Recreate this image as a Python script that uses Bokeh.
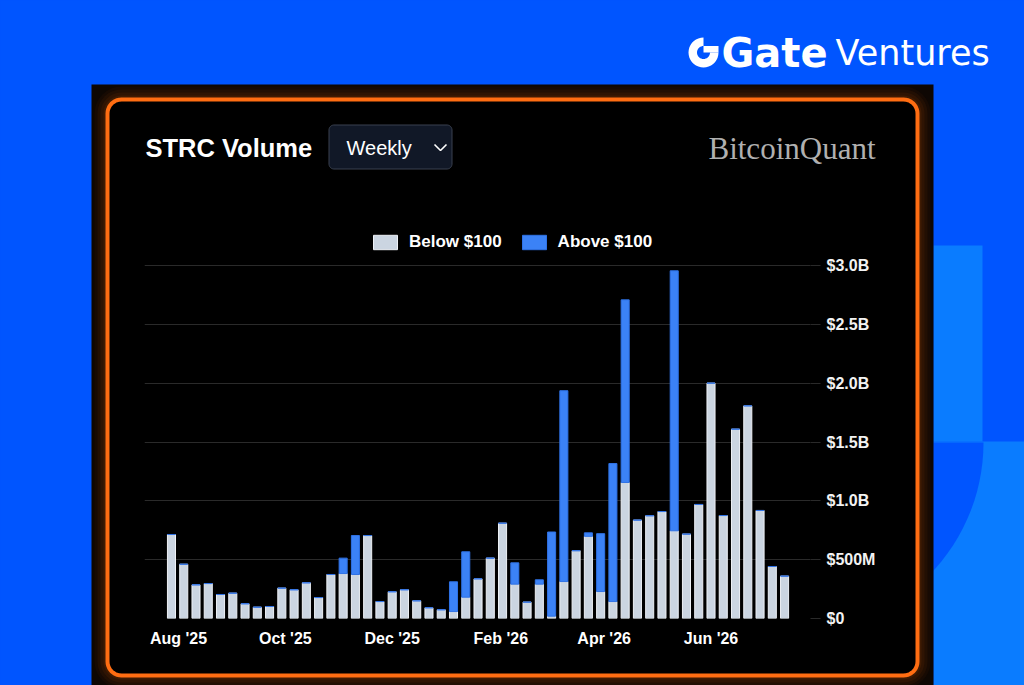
import math
import pandas as pd
from bokeh.plotting import figure
from bokeh.layouts import column
from bokeh.core.properties import value
from bokeh.models import (ColumnDataSource, Range1d, Legend, LegendItem, DatetimeTickFormatter,
                          MonthsTicker, FixedTicker)
from bokeh.embed import file_html
from bokeh.resources import INLINE

# ---------------- data ----------------
week_start = "2025-07-28"
n_weeks = 51
below_100_musd = [714, 461, 286, 297, 204, 215, 125, 96, 102, 258, 244, 303, 178, 374, 382, 374, 705,
                  144, 227, 244, 150, 91, 74, 59, 181, 337, 513, 810, 292, 139, 292, 20, 314, 576,
                  698, 229, 144, 1156, 836, 873, 909, 745, 717, 969, 2000, 875, 1609, 1807, 918, 442, 360]
above_100_musd = [0, 0, 0, 0, 0, 0, 0, 0, 0, 0, 0, 0, 0, 0, 131, 331, 0,
                  0, 0, 0, 0, 0, 0, 253, 386, 0, 0, 0, 181, 0, 37, 715, 1622, 0,
                  30, 492, 1173, 1552, 0, 0, 0, 2210, 0, 0, 0, 0, 0, 0, 0, 0, 0]
series_labels = ["Below $100", "Above $100"]
y_ticks = [0, 0.5e9, 1.0e9, 1.5e9, 2.0e9, 2.5e9, 3.0e9]
y_tick_labels = ["$0", "$500M", "$1.0B", "$1.5B", "$2.0B", "$2.5B", "$3.0B"]
x_tick_months = [1, 3, 5, 7, 9, 11]   # Feb, Apr, Jun, Aug, Oct, Dec (0-based)
title_text = "STRC Volume"
period_text = "Weekly"
brand_text = "BitcoinQuant"

weeks = pd.date_range(week_start, periods=n_weeks, freq="7D")
src = ColumnDataSource(dict(
    date=weeks,
    below=[v * 1e6 for v in below_100_musd],
    above=[v * 1e6 for v in above_100_musd],
))

# ---------------- style constants ----------------
DAY = 24 * 3600 * 1000
BLUE = "#0055ff"
LIGHT_BLUE = "#0a7cff"
ORANGE = "#ff6d12"
FONT = "Liberation Sans"
W, H = 1024, 685


def rrect(x0, y0, x1, y1, r, n=10):
    xs, ys = [], []
    corners = [(x1 - r, y0 + r, -90), (x1 - r, y1 - r, 0), (x0 + r, y1 - r, 90), (x0 + r, y0 + r, 180)]
    for cx, cy, a0 in corners:
        for i in range(n + 1):
            a = math.radians(a0 + 90 * i / n)
            xs.append(cx + r * math.cos(a))
            ys.append(cy + r * math.sin(a))
    return xs, ys


# ---------------- background / decoration figure (pixel coordinates) ----------------
bg = figure(width=W, height=H, x_range=Range1d(0, W), y_range=Range1d(H, 0),
            min_border=0, toolbar_location=None, tools="", output_backend="svg",
            x_axis_location=None, y_axis_location=None, frame_align=False,
            background_fill_color=BLUE, border_fill_color=None, outline_line_color=None,
            styles={"background-color": BLUE})
for g in list(bg.center):
    g.visible = False

bg.quad(left=[933], right=[982], top=[245], bottom=[441], fill_color=LIGHT_BLUE, line_color=None)
bg.quad(left=[933], right=[1030], top=[441], bottom=[700], fill_color=LIGHT_BLUE, line_color=None)
cx, cy, r = 794, 442, 189
axs = [cx + r * math.cos(math.radians(a)) for a in range(0, 46, 3)]
ays = [cy + r * math.sin(math.radians(a)) for a in range(0, 46, 3)]
bg.patch([900] + axs + [900], [442] + ays + [600], fill_color=BLUE, line_color=None)

bg.quad(left=[91], right=[933], top=[84], bottom=[720], fill_color="#0e0703", line_color=None)
for off, al in [(13, 0.04), (10, 0.05), (7, 0.06), (4, 0.08)]:
    xs, ys = rrect(107 - off, 99 - off, 917 + off, 675 + off, 14 + off)
    bg.patch(xs, ys, fill_color=ORANGE, fill_alpha=al, line_color=None)
xs, ys = rrect(107, 99, 917, 675, 14)
bg.patch(xs, ys, fill_color="black", line_color=ORANGE, line_width=4)

# header
bg.text(x=[145], y=[147], text=[title_text], text_font=value(FONT), text_font_size="25.5px",
        text_font_style="bold", text_color="white", text_baseline="middle")
xs, ys = rrect(328.5, 124.5, 451.5, 168.5, 5)
bg.patch(xs, ys, fill_color="#111827", line_color="#3a4150", line_width=1)
bg.text(x=[346], y=[147], text=[period_text], text_font=value(FONT), text_font_size="20px",
        text_color="white", text_baseline="middle")
bg.line(x=[434, 440, 446], y=[144, 150, 144], line_color="white", line_width=1.6)
bg.text(x=[875], y=[148], text=[brand_text], text_font=value("Liberation Serif"),
        text_font_size="31px", text_color="#b0b0b0", text_baseline="middle", text_align="right")

# Gate Ventures logo
icx, icy, ro, ri = 703, 52, 15, 6.5
oxs = [icx + ro * math.cos(math.radians(a)) for a in range(270, -1, -10)]
oys = [icy + ro * math.sin(math.radians(a)) for a in range(270, -1, -10)]
ixs = [icx + ri * math.cos(math.radians(a)) for a in range(0, 271, 10)]
iys = [icy + ri * math.sin(math.radians(a)) for a in range(0, 271, 10)]
bg.patch(oxs + ixs, oys + iys, fill_color="white", line_color=None)
bg.quad(left=[icx], right=[icx + ro], top=[icy - 6.5], bottom=[icy], fill_color="white", line_color=None)
bg.text(x=[721], y=[52], text=["Gate"], text_font=value("DejaVu Sans"), text_font_size="40px",
        text_font_style="bold", text_color="white", text_baseline="middle")
bg.text(x=[835], y=[52], text=["Ventures"], text_font=value("DejaVu Sans"), text_font_size="35px",
        text_color="white", text_baseline="middle")

# ---------------- chart (overlaid on the background) ----------------
CX0, CX1, CY0, CY1 = 144, 900, 204, 654
ZERO_Y, TOP_TICK_Y = 618, 265          # page rows of $0 and $3.0B
FRAME_H = ZERO_Y - CY0
chart = figure(width=CX1 - CX0, height=CY1 - CY0, x_axis_type="datetime", y_axis_location="right",
               x_range=Range1d(weeks[0] - pd.Timedelta(days=15.4), weeks[-1] + pd.Timedelta(days=14.8)),
               y_range=Range1d(0, 3.0e9 * FRAME_H / (ZERO_Y - TOP_TICK_Y)),
               min_border_left=0, min_border_right=90, min_border_top=0,
               min_border_bottom=(CY1 - CY0) - FRAME_H,
               toolbar_location=None, tools="", output_backend="svg", frame_align=False,
               background_fill_color=None, border_fill_color=None, outline_line_color=None,
               styles={"position": "absolute", "left": f"{CX0}px", "top": f"{CY0}px",
                       "background-color": "black"})

rs = chart.vbar_stack(["below", "above"], x="date", width=4.6 * DAY, source=src,
                      fill_color=["#cbd5e1", "#3b82f6"], line_color=["#eef1f6", "#2f72e6"],
                      line_width=1)

legend = Legend(items=[LegendItem(label=series_labels[0], renderers=[rs[0]]),
                       LegendItem(label=series_labels[1], renderers=[rs[1]])],
                orientation="horizontal", location=(226, 366), glyph_width=30, glyph_height=18,
                label_standoff=9, spacing=17, padding=0, margin=0,
                background_fill_alpha=0, border_line_color=None,
                label_text_color="white", label_text_font=FONT, label_text_font_size="17px",
                label_text_font_style="bold", label_height=18)
chart.add_layout(legend)

chart.xgrid.visible = False
chart.ygrid.grid_line_color = "#2a2a2a"
chart.ygrid.ticker = FixedTicker(ticks=y_ticks)

xa = chart.xaxis[0]
xa.ticker = MonthsTicker(months=x_tick_months)
xa.formatter = DatetimeTickFormatter(days="%b '%y", months="%b '%y", years="%b '%y")
xa.axis_line_color = None
xa.major_tick_line_color = None
xa.minor_tick_line_color = None
xa.major_label_standoff = 5
xa.major_label_text_color = "white"
xa.major_label_text_font = FONT
xa.major_label_text_font_size = "16px"
xa.major_label_text_font_style = "bold"

ya = chart.yaxis[0]
ya.ticker = FixedTicker(ticks=y_ticks)
ya.major_label_overrides = {t: s for t, s in zip(y_ticks, y_tick_labels)}
ya.axis_line_color = None
ya.major_tick_in = 0
ya.major_tick_out = 10
ya.major_tick_line_color = "#2a2a2a"
ya.minor_tick_line_color = None
ya.major_label_standoff = 6
ya.major_label_text_color = "#f2f2f2"
ya.major_label_text_font = FONT
ya.major_label_text_font_size = "16px"
ya.major_label_text_font_style = "bold"

p = column(bg, chart, spacing=0, styles={"position": "relative", "background-color": BLUE})

open("out.html", "w").write(file_html(p, INLINE))
